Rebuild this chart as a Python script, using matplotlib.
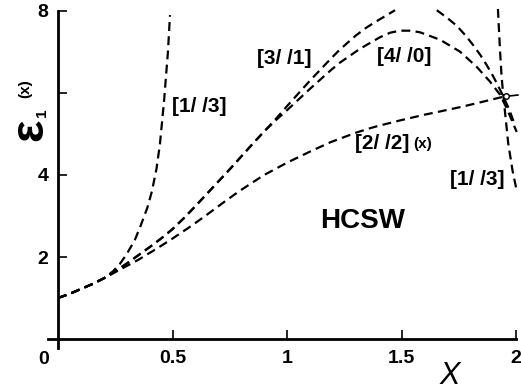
import matplotlib
matplotlib.use("Agg")
import matplotlib.pyplot as plt

plt.rcParams['font.family'] = ['Liberation Sans', 'DejaVu Sans']

# curve data
x_start = [0, 0.05, 0.1, 0.15, 0.2]
y_start = [1.0, 1.1, 1.22, 1.34, 1.48]

# [3//1] and [4//0] lie on top of each other up to x ~ 0.9
x_upper = [0.25, 0.3, 0.35, 0.4, 0.45, 0.5, 0.55, 0.6, 0.65, 0.7, 0.75, 0.8, 0.85, 0.9]
y_upper = [1.65, 1.84, 2.04, 2.24, 2.45, 2.68, 2.95, 3.24, 3.54, 3.84, 4.14, 4.45, 4.76, 5.06]

x_31 = x_start + x_upper + [0.95, 1.0, 1.1, 1.19, 1.231, 1.3, 1.348, 1.4, 1.472]
y_31 = y_start + y_upper + [5.36, 5.68, 6.3, 6.83, 7.06, 7.4, 7.6, 7.78, 8.02]

x_31b = [1.654, 1.7, 1.741, 1.78, 1.814, 1.845, 1.872, 1.895, 1.916, 1.945, 1.97, 1.99]
y_31b = [8.02, 7.83, 7.64, 7.4, 7.16, 6.92, 6.68, 6.46, 6.24, 5.91, 5.6, 5.3]

x_40 = x_start + x_upper + [0.95, 1.0, 1.1, 1.19, 1.231, 1.319, 1.406, 1.45, 1.493, 1.54,
                            1.581, 1.668, 1.755, 1.828, 1.886, 1.93, 1.96, 2.003]
y_40 = y_start + y_upper + [5.33, 5.58, 6.1, 6.55, 6.74, 7.08, 7.36, 7.47, 7.52, 7.52,
                            7.48, 7.3, 7.01, 6.64, 6.28, 5.96, 5.62, 5.05]

x_22 = x_start + [0.25, 0.3, 0.35, 0.43, 0.5, 0.58, 0.65, 0.72, 0.79, 0.85, 0.9, 1.0, 1.1,
                  1.19, 1.3, 1.362, 1.4, 1.5, 1.6, 1.668, 1.76, 1.85, 1.945]
y_22 = y_start + [1.63, 1.78, 1.93, 2.2, 2.45, 2.75, 3.03, 3.32, 3.6, 3.82, 4.0, 4.3, 4.57,
                  4.8, 5.03, 5.14, 5.2, 5.34, 5.47, 5.55, 5.66, 5.78, 5.91]

x_13a = x_start + [0.24, 0.27, 0.3, 0.335, 0.36, 0.39, 0.41, 0.43, 0.445, 0.463, 0.48, 0.489]
y_13a = y_start + [1.65, 1.83, 2.07, 2.41, 2.75, 3.2, 3.6, 4.15, 4.75, 5.8, 7.0, 7.9]

x_13b = [1.921, 1.93, 1.937, 1.945, 1.966, 1.985, 2.004]
y_13b = [8.05, 7.05, 6.4, 5.91, 4.77, 4.1, 3.59]

cross_x = 1.957
cross_y = 5.92

fig = plt.figure(figsize=(5.21, 3.92), dpi=100)
ax = fig.add_axes([58 / 521, 53 / 392, 462.6 / 521, 332.1 / 392])
ax.set_xlim(0, 2.02)
ax.set_ylim(0, 8.1)

dash = dict(color='black', lw=1.6, linestyle=(0, (4, 2.4)))
ax.plot(x_13a, y_13a, **dash)
ax.plot(x_22, y_22, **dash)
ax.plot(x_31, y_31, **dash)
ax.plot(x_31b, y_31b, **dash)
ax.plot(x_40, y_40, **dash)
ax.plot(x_13b, y_13b, **dash)
ax.plot([cross_x, 2.008], [cross_y, cross_y + 0.03], color='black', lw=1.2)
ax.plot([cross_x], [cross_y], 'o', ms=4, mfc='white', mec='black', mew=1)

for s in ['top', 'right']:
    ax.spines[s].set_visible(False)
ax.spines['left'].set_linewidth(2)
ax.spines['bottom'].set_linewidth(2)
ax.spines['left'].set_bounds(-0.22, 8)
ax.spines['bottom'].set_bounds(-0.044, 2.0)

ax.set_xticks([0.5, 1, 1.5, 2])
ax.set_xticklabels(['0.5', '1', '1.5', '2'])
ax.set_yticks([2, 4, 6, 8])
ax.set_yticklabels(['2', '4', '', '8'])
ax.tick_params(direction='in', length=6.5, width=1.2, labelsize=14)
ax.tick_params(axis='x', pad=8)
ax.tick_params(axis='y', pad=7)
for lab in ax.get_xticklabels() + ax.get_yticklabels():
    lab.set_fontweight('bold')

ax.text(-0.062, -0.3, '0', fontsize=14, fontweight='bold', ha='center', va='top')

# axis labels
ax.text(1.712, -0.9, 'X', fontsize=22, style='italic', ha='center', va='center')
ax.text(-0.122, 5.1, 'ε', fontsize=34, fontweight='bold', rotation=90,
        ha='center', va='center', clip_on=False)
ax.text(-0.07, 5.51, '1', fontsize=11, fontweight='bold', rotation=90,
        ha='center', va='center', clip_on=False)
ax.text(-0.144, 6.1, '(x)', fontsize=11, fontweight='bold', rotation=90,
        ha='center', va='center', clip_on=False)

# curve labels
lab = dict(fontsize=15, fontweight='bold', ha='center', va='center')
ax.text(0.618, 5.68, '[1/ /3]', **lab)
ax.text(0.987, 6.83, '[3/ /1]', **lab)
ax.text(1.511, 6.89, '[4/ /0]', **lab)
ax.text(1.415, 4.76, '[2/ /2]', **lab)
ax.text(1.59, 4.76, '(x)', fontsize=11, fontweight='bold', ha='center', va='center')
ax.text(1.832, 3.9, '[1/ /3]', **lab)
ax.text(1.332, 2.88, 'HCSW', fontsize=20, fontweight='bold', ha='center', va='center')

fig.savefig('out.png', dpi=100)
